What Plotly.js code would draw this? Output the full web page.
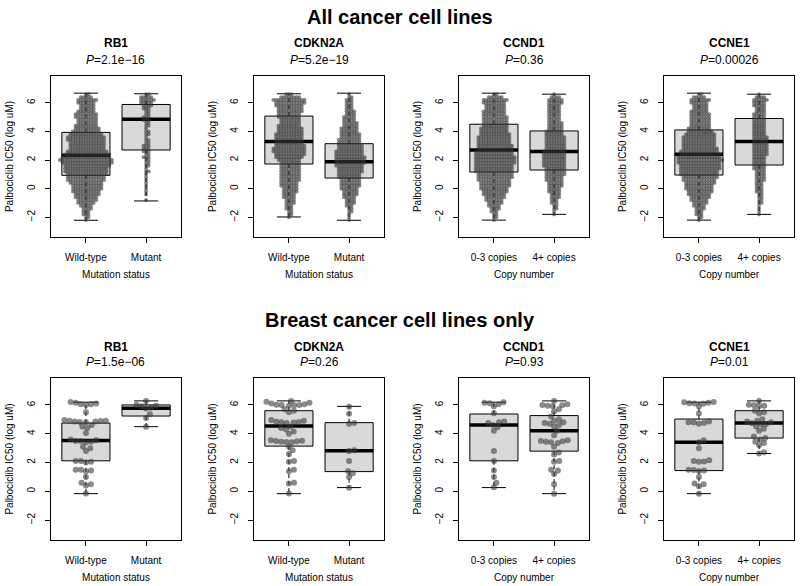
<!DOCTYPE html>
<html>
<head>
<meta charset="utf-8">
<script src="https://cdn.plot.ly/plotly-3.0.1.min.js"></script>
<style>html,body{margin:0;padding:0;background:#fff;}#chart{width:800px;height:586px;}</style>
</head>
<body>
<div id="chart"></div>
<script>
// ---------------- DATA ----------------
// Bins (log uM) used for the dense "all cancer cell lines" swarms; counts read per bin from the picture
const bins = [-2.2,-2.0,-1.8,-1.6,-1.4,-1.2,-1.0,-0.8,-0.6,-0.4,-0.2,0.0,0.2,0.4,0.6,0.8,1.0,1.2,1.4,1.6,1.8,2.0,2.2,2.4,2.6,2.8,3.0,3.2,3.4,3.6,3.8,4.0,4.2,4.4,4.6,4.8,5.0,5.2,5.4,5.6,5.8,6.0,6.2,6.4,6.6];

const allRB1_wt    = [1,2,3,3,4,5,7,8,9,10,11,12,12,13,15,15,16,17,17,18,20,21,19,18,16,14,14,14,15,15,13,11,10,9,8,8,9,9,7,6,6,7,8,5,2];
const allRB1_mut   = [0,0,0,0,0,0,0,1,0,1,1,1,1,1,1,1,1,2,1,2,2,2,3,2,3,3,3,2,2,1,2,2,1,2,2,3,3,2,2,3,4,5,6,5,2];
const allCDKN2A_wt = [0,1,2,2,3,3,4,4,5,5,6,6,7,7,8,8,8,8,8,8,8,9,11,12,13,13,12,11,11,11,11,10,10,9,8,8,9,9,10,10,11,12,13,8,3];
const allCDKN2A_mut= [1,1,1,2,2,3,4,4,5,6,6,7,8,8,8,9,9,10,10,11,12,12,12,11,11,10,10,9,9,8,8,7,7,6,6,5,5,4,4,3,3,3,3,2,1];
const allCCND1_lo  = [1,2,2,3,4,5,6,7,8,9,10,11,12,12,13,14,14,15,15,15,16,16,16,15,15,14,14,13,13,13,12,11,11,10,10,10,10,9,9,8,8,9,10,6,2];
const allCCND1_hi  = [0,0,1,1,2,2,3,3,4,4,5,5,6,6,7,7,8,8,8,9,9,9,9,9,9,8,8,8,8,8,7,7,6,6,6,5,5,5,5,5,5,6,6,4,1];
const allCCNE1_lo  = [1,2,3,3,4,5,6,7,8,9,10,11,11,12,13,14,15,15,16,16,17,18,17,16,15,14,13,13,13,13,12,10,9,8,8,8,8,8,7,6,6,7,8,5,2];
const allCCNE1_hi  = [0,0,1,1,1,1,2,2,2,2,3,3,3,3,4,4,4,4,5,5,5,5,5,6,6,6,6,6,6,6,5,5,5,5,5,5,5,5,4,4,5,5,6,4,1];

// Breast cancer cell lines: individual values
const brRB1_wt = [6.2,6.15,6.1,6.05,6.05,6.0,5.5,4.95,4.9,4.9,4.88,4.85,4.85,4.82,4.8,4.6,4.5,4.4,4.05,3.6,3.55,3.5,3.5,3.45,3.4,3.1,3.0,2.8,2.1,2.1,2.05,2.0,1.5,1.5,1.45,1.4,1.0,0.6,0.5,0.4,-0.15];
const brRB1_mut = [6.28,6.02,5.95,5.9,5.8,5.75,5.35,5.1,4.48];
const brCDKN2A_wt = [6.28,6.22,6.15,6.1,6.05,6.02,6.0,6.0,5.97,5.95,5.7,5.6,5.5,4.95,4.9,4.85,4.82,4.8,4.78,4.75,4.5,4.4,4.3,4.15,4.0,3.55,3.52,3.5,3.48,3.45,3.42,3.4,3.1,2.85,2.6,2.1,2.05,1.5,1.4,0.6,0.55,-0.15];
const brCDKN2A_mut = [5.88,5.38,4.75,4.7,2.85,2.8,2.1,1.4,1.25,1.0,0.25];
const brCCND1_lo = [6.18,6.15,6.12,6.05,5.9,5.42,4.85,4.8,4.75,4.6,4.45,4.2,2.8,2.1,1.45,1.0,0.6,0.28];
const brCCND1_hi = [6.28,6.05,6.0,5.98,5.95,5.9,5.7,5.55,5.2,5.0,4.9,4.8,4.75,4.7,4.6,4.5,4.2,3.9,3.55,3.5,3.48,3.45,3.4,3.35,3.1,2.7,2.55,2.1,2.05,1.5,1.45,1.2,0.5,-0.16];
const brCCNE1_lo = [6.2,6.18,6.15,6.12,6.1,6.08,5.9,5.4,4.85,4.8,4.78,4.75,4.7,3.55,3.4,3.0,2.15,2.1,2.08,2.05,1.5,1.48,1.45,1.42,1.0,0.55,0.5,0.35,-0.16];
const brCCNE1_hi = [6.28,6.02,5.98,5.95,5.9,5.6,5.5,5.4,5.0,4.9,4.85,4.8,4.72,4.68,4.65,4.5,4.35,4.2,3.8,3.7,3.6,3.45,3.35,3.2,2.72,2.63];

// Box statistics: [group1, group2]
const statsQ1  = { aRB1:[0.93,2.7], aCDKN2A:[1.72,0.74], aCCND1:[1.16,1.3],  aCCNE1:[0.95,1.65], bRB1:[2.12,5.23], bCDKN2A:[3.14,1.37], bCCND1:[2.12,2.79], bCCNE1:[1.44,3.7] };
const statsMed = { aRB1:[2.33,4.84], aCDKN2A:[3.3,1.88],  aCCND1:[2.7,2.6],   aCCNE1:[2.4,3.3],   bRB1:[3.53,5.77], bCDKN2A:[4.53,2.81], bCCND1:[4.6,4.21],  bCCNE1:[3.4,4.74] };
const statsQ3  = { aRB1:[3.93,5.88], aCDKN2A:[5.07,3.14], aCCND1:[4.5,4.03],  aCCNE1:[4.1,4.9],   bRB1:[4.74,6.0],  bCDKN2A:[5.6,4.77],  bCCND1:[5.37,5.26], bCCNE1:[5.02,5.6] };
const statsLo  = { aRB1:[-2.21,-0.86], aCDKN2A:[-1.98,-2.21], aCCND1:[-2.2,-1.8], aCCNE1:[-2.2,-1.8], bRB1:[-0.16,4.49], bCDKN2A:[-0.16,0.26], bCCND1:[0.26,-0.16], bCCNE1:[-0.16,2.63] };
const statsHi  = { aRB1:[6.67,6.63], aCDKN2A:[6.63,6.67], aCCND1:[6.67,6.6], aCCNE1:[6.67,6.6], bRB1:[6.19,6.28], bCDKN2A:[6.28,5.9], bCCND1:[6.19,6.28], bCCNE1:[6.19,6.28] };

const genes = ["RB1","CDKN2A","CCND1","CCNE1"];
const pAll = ["2.1e\u221216","5.2e\u221219","0.36","0.00026"];
const pBreast = ["1.5e\u221206","0.26","0.93","0.01"];
const mutLabels = ["Wild-type","Mutant"];
const cnLabels = ["0-3 copies","4+ copies"];
const xTitles = ["Mutation status","Mutation status","Copy number","Copy number"];
const yTitle = "Palbociclib IC50 (log uM)";
const rowTitles = ["All cancer cell lines","Breast cancer cell lines only"];

// ---------------- HELPERS ----------------
function expand(counts){ const out=[]; counts.forEach((c,i)=>{ for(let k=0;k<c;k++) out.push(bins[i]); }); return out; }
function swarm(ys, dpx, pxX, pxY){
  const idx = ys.map((v,i)=>i).sort((a,b)=>ys[a]-ys[b]);
  const placed=[]; const out=new Array(ys.length);
  for(const i of idx){
    const yp = ys[i]*pxY;
    const near = placed.filter(p=>Math.abs(p.y-yp) < dpx);
    const cands=[0];
    near.forEach(p=>{ const dx=Math.sqrt(dpx*dpx-(p.y-yp)*(p.y-yp)); cands.push(p.x+dx, p.x-dx); });
    cands.sort((a,b)=>(Math.abs(a)-Math.abs(b)) || (b-a));
    let ch=0;
    for(const c of cands){ if(near.every(p=>(c-p.x)*(c-p.x)+(yp-p.y)*(yp-p.y) >= dpx*dpx-1e-6)){ ch=c; break; } }
    placed.push({x:ch,y:yp}); out[i]=ch/pxX;
  }
  return out;
}

const FONT = "Liberation Sans, Arial, Helvetica, sans-serif";
const YR = [-3.38, 7.87];
const XR = [0.42, 2.58];
const lefts = [51,254,459,664];
const pw = 130;
const rowsPx = [[76,237],[378,540]];
const pxX = pw/(XR[1]-XR[0]);
const pxY = 161/(YR[1]-YR[0]);

const panels = [
  {key:'aRB1',    g:[expand(allRB1_wt),expand(allRB1_mut)],       row:0,col:0},
  {key:'aCDKN2A', g:[expand(allCDKN2A_wt),expand(allCDKN2A_mut)], row:0,col:1},
  {key:'aCCND1',  g:[expand(allCCND1_lo),expand(allCCND1_hi)],    row:0,col:2},
  {key:'aCCNE1',  g:[expand(allCCNE1_lo),expand(allCCNE1_hi)],    row:0,col:3},
  {key:'bRB1',    g:[brRB1_wt,brRB1_mut],       row:1,col:0},
  {key:'bCDKN2A', g:[brCDKN2A_wt,brCDKN2A_mut], row:1,col:1},
  {key:'bCCND1',  g:[brCCND1_lo,brCCND1_hi],    row:1,col:2},
  {key:'bCCNE1',  g:[brCCNE1_lo,brCCNE1_hi],    row:1,col:3}
];

const traces=[]; const layout={
  width:800,height:586,margin:{l:0,r:0,t:0,b:0},paper_bgcolor:'#fff',plot_bgcolor:'#fff',
  showlegend:false,font:{family:FONT,size:10,color:'#000'},annotations:[]
};

panels.forEach((p,k)=>{
  const n=k+1, sx=(n===1?'':n);
  const xa='x'+sx, ya='y'+sx;
  const q1=statsQ1[p.key], md=statsMed[p.key], q3=statsQ3[p.key], lo=statsLo[p.key], hi=statsHi[p.key];
  // box
  traces.push({type:'box',xaxis:xa,yaxis:ya,x:[1,2],q1:q1,median:md,q3:q3,lowerfence:q1,upperfence:q3,
    width:0.8,whiskerwidth:0,fillcolor:'#d9d9d9',line:{color:'#000',width:1},boxpoints:false,hoverinfo:'skip'});
  // whiskers (dashed)
  traces.push({type:'scatter',mode:'lines',xaxis:xa,yaxis:ya,hoverinfo:'skip',
    x:[1,1,null,1,1,null,2,2,null,2,2], y:[q3[0],hi[0],null,q1[0],lo[0],null,q3[1],hi[1],null,q1[1],lo[1]],
    line:{color:'#000',width:1,dash:'4px,3px'}});
  // caps
  traces.push({type:'scatter',mode:'lines',xaxis:xa,yaxis:ya,hoverinfo:'skip',
    x:[0.8,1.2,null,0.8,1.2,null,1.8,2.2,null,1.8,2.2], y:[hi[0],hi[0],null,lo[0],lo[0],null,hi[1],hi[1],null,lo[1],lo[1]],
    line:{color:'#000',width:1}});
  // median
  traces.push({type:'scatter',mode:'lines',xaxis:xa,yaxis:ya,hoverinfo:'skip',
    x:[0.6,1.4,null,1.6,2.4], y:[md[0],md[0],null,md[1],md[1]], line:{color:'#000',width:3.5}});
  // points
  const dense = p.row===0;
  p.g.forEach((ys,gi)=>{
    const off = swarm(ys, dense?2.6:5.2, pxX, pxY);
    traces.push({type:'scatter',mode:'markers',xaxis:xa,yaxis:ya,hoverinfo:'skip',
      x:off.map(o=>gi+1+o), y:ys,
      marker:{size:dense?3.8:6,color:dense?'rgba(50,50,50,0.6)':'rgba(60,60,60,0.6)',line:{width:0}}});
  });
  const L=lefts[p.col], rp=rowsPx[p.row];
  layout['xaxis'+sx]={domain:[L/800,(L+pw)/800],range:XR,anchor:ya,tickvals:[1,2],
    ticktext:(p.col<2?mutLabels:cnLabels),ticks:'outside',ticklen:5,tickcolor:'#000',
    showline:true,mirror:true,linecolor:'#000',linewidth:1,showgrid:false,zeroline:false,
    ticklabelstandoff:6,tickfont:{family:FONT,size:10,color:'#000'},
    title:{text:xTitles[p.col],font:{family:FONT,size:10,color:'#000'},standoff:8},fixedrange:true};
  layout['yaxis'+sx]={domain:[1-rp[1]/586,1-rp[0]/586],range:YR,anchor:xa,tickvals:[-2,0,2,4,6],
    ticks:'outside',ticklen:5,tickcolor:'#000',tickangle:-90,
    showline:true,mirror:true,linecolor:'#000',linewidth:1,showgrid:false,zeroline:false,
    ticklabelstandoff:6,tickfont:{family:FONT,size:10,color:'#000'},
    title:{text:yTitle,font:{family:FONT,size:10,color:'#000'},standoff:10},fixedrange:true};
  // panel titles
  const cx=(L+pw/2)/800;
  const gy = p.row===0?43:346.5, py = p.row===0?59.5:361.5;
  layout.annotations.push({xref:'paper',yref:'paper',x:cx,y:1-gy/586,xanchor:'center',yanchor:'middle',
    showarrow:false,text:'<b>'+genes[p.col]+'</b>',font:{family:FONT,size:12,color:'#000'}});
  layout.annotations.push({xref:'paper',yref:'paper',x:cx,y:1-py/586,xanchor:'center',yanchor:'middle',
    showarrow:false,text:'<i>P</i>='+(p.row===0?pAll:pBreast)[p.col],font:{family:FONT,size:12,color:'#000'}});
});
layout.annotations.push({xref:'paper',yref:'paper',x:0.5,y:1-17/586,xanchor:'center',yanchor:'middle',showarrow:false,
  text:'<b>'+rowTitles[0]+'</b>',font:{family:FONT,size:20,color:'#000'}});
layout.annotations.push({xref:'paper',yref:'paper',x:0.5,y:1-320/586,xanchor:'center',yanchor:'middle',showarrow:false,
  text:'<b>'+rowTitles[1]+'</b>',font:{family:FONT,size:20,color:'#000'}});

Plotly.newPlot('chart',traces,layout,{staticPlot:true,displayModeBar:false});
</script>
</body>
</html>
